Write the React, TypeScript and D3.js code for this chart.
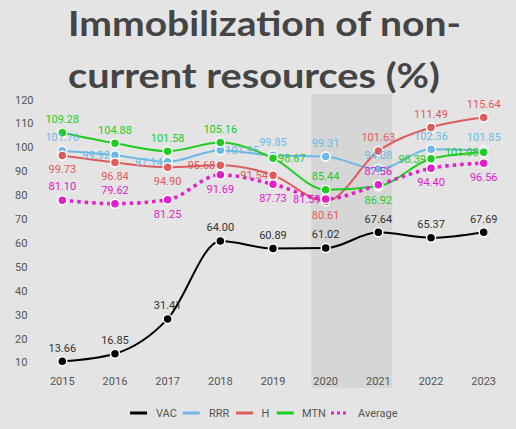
import React from "react";
import * as d3 from "d3";

const years = ["2015", "2016", "2017", "2018", "2019", "2020", "2021", "2022", "2023"];
const vac = [13.66, 16.85, 31.41, 64.0, 60.89, 61.02, 67.64, 65.37, 67.69];
const rrr = [101.76, 99.92, 97.14, 101.95, 99.85, 99.31, 94.08, 102.36, 101.85];
const h = [99.73, 96.84, 94.9, 95.68, 91.54, 80.61, 101.63, 111.49, 115.64];
const mtn = [109.28, 104.88, 101.58, 105.16, 98.67, 85.44, 86.92, 98.39, 101.08];
const average = [81.1, 79.62, 81.25, 91.69, 87.73, 81.59, 87.56, 94.4, 96.56];
const yTicks = [10, 20, 30, 40, 50, 60, 70, 80, 90, 100, 110, 120];
const highlight = ["2020", "2021"];
const titleLines = ["Immobilization of non-", "current resources (%)"];

// label placement: t = above, b = below, l = left, r = right
const vacPos = ["t", "t", "t", "t", "t", "t", "t", "t", "t"];
const rrrPos = ["t", "l", "l", "r", "t", "t", "t", "t", "t"];
const hPos = ["b", "b", "b", "l", "l", "b", "t", "t", "t"];
const mtnPos = ["t", "t", "t", "t", "r", "t", "b", "l", "l"];
const avgPos = ["t", "t", "b", "b", "b", "l", "t", "b", "b"];

const series = [
  { name: "VAC", values: vac, pos: vacPos, color: "#000000", label: "#333333", dash: null },
  { name: "RRR", values: rrr, pos: rrrPos, color: "#6db8e6", label: "#6db8e6", dash: null },
  { name: "H", values: h, pos: hPos, color: "#e05b5b", label: "#e05b5b", dash: null },
  { name: "MTN", values: mtn, pos: mtnPos, color: "#1fcc1f", label: "#1fcc1f", dash: null },
  { name: "Average", values: average, pos: avgPos, color: "#e020c8", label: "#e020c8", dash: "3.5 4" },
];

const W = 516;
const H = 429;
const FONT = "Roboto, 'Noto Sans', sans-serif";

export default function App() {
  const x = d3.scalePoint<string>().domain(years).range([62.3, 483.7]);
  const y = d3.scaleLinear().domain([2.5, 125.5]).range([388, 94]);
  const line = d3
    .line<number>()
    .x((_, i) => x(years[i]) as number)
    .y((d) => y(d))
    .curve(d3.curveMonotoneX);

  const bandX0 = (x(highlight[0]) as number) - 14.5;
  const bandX1 = (x(highlight[1]) as number) + 14;

  const legendItems = [
    { x: 130, tx: 156 },
    { x: 182.7, tx: 209 },
    { x: 236, tx: 261.5 },
    { x: 276.7, tx: 302 },
    { x: 331, tx: 358 },
  ];

  return (
    <div style={{ position: "absolute", left: 0, top: 0 }}>
      <svg width={W} height={H} style={{ display: "block" }}>
        <rect x={0} y={0} width={W} height={H} fill="#e4e4e4" />
        <text
          x={68}
          y={36}
          textLength={393}
          lengthAdjust="spacingAndGlyphs"
          fontFamily="Lato, 'Open Sans', sans-serif"
          fontWeight={700}
          fontSize={34}
          fill="#454545"
        >
          {titleLines[0]}
        </text>
        <text
          x={68}
          y={88}
          textLength={372}
          lengthAdjust="spacingAndGlyphs"
          fontFamily="Lato, 'Open Sans', sans-serif"
          fontWeight={700}
          fontSize={34}
          fill="#454545"
        >
          {titleLines[1]}
        </text>

        <rect x={bandX0} y={y(125.5)} width={bandX1 - bandX0} height={y(2.5) - y(125.5)} fill="#d6d6d6" />

        {yTicks.map((t) => (
          <text key={t} x={15} y={y(t) - 3.6} fontFamily={FONT} fontSize={11} fill="#555">
            {t}
          </text>
        ))}
        {years.map((yr) => (
          <text
            key={yr}
            x={x(yr) as number}
            y={384.5}
            textAnchor="middle"
            fontFamily={FONT}
            fontSize={11}
            fill="#555"
          >
            {yr}
          </text>
        ))}

        {series.map((s) => (
          <path
            key={s.name}
            d={line(s.values) || ""}
            fill="none"
            stroke={s.color}
            strokeWidth={s.dash ? 3.5 : 2}
            strokeDasharray={s.dash || undefined}
          />
        ))}
        {series.map((s) => (
          <g key={s.name + "-pts"}>
            {s.values.map((v, i) => (
              <circle
                key={i}
                cx={x(years[i]) as number}
                cy={y(v)}
                r={4.5}
                fill={s.color}
                stroke="#ffffff"
                strokeWidth={1.5}
              />
            ))}
          </g>
        ))}
        {series.map((s) => (
          <g key={s.name + "-lbl"}>
            {s.values.map((v, i) => {
              const px = x(years[i]) as number;
              const py = y(v);
              const p = s.pos[i];
              let tx = px;
              let ty = py;
              let anchor = "middle";
              if (p === "t") ty = py - 13.5;
              else if (p === "b") ty = py + 14;
              else if (p === "l") {
                tx = px - 5;
                anchor = "end";
              } else {
                tx = px + 5;
                anchor = "start";
              }
              return (
                <text
                  key={i}
                  x={tx}
                  y={ty}
                  dy="0.35em"
                  textAnchor={anchor}
                  fontFamily={FONT}
                  fontSize={11}
                  fill={s.label}
                >
                  {v.toFixed(2)}
                </text>
              );
            })}
          </g>
        ))}

        {series.map((s, i) => (
          <g key={s.name + "-leg"}>
            <line
              x1={legendItems[i].x}
              x2={legendItems[i].x + 17}
              y1={413}
              y2={413}
              stroke={s.color}
              strokeWidth={3}
              strokeDasharray={s.dash ? "3 3" : undefined}
            />
            <text x={legendItems[i].tx} y={413} dy="0.35em" fontFamily={FONT} fontSize={11} fill="#555">
              {s.name}
            </text>
          </g>
        ))}
      </svg>
    </div>
  );
}
